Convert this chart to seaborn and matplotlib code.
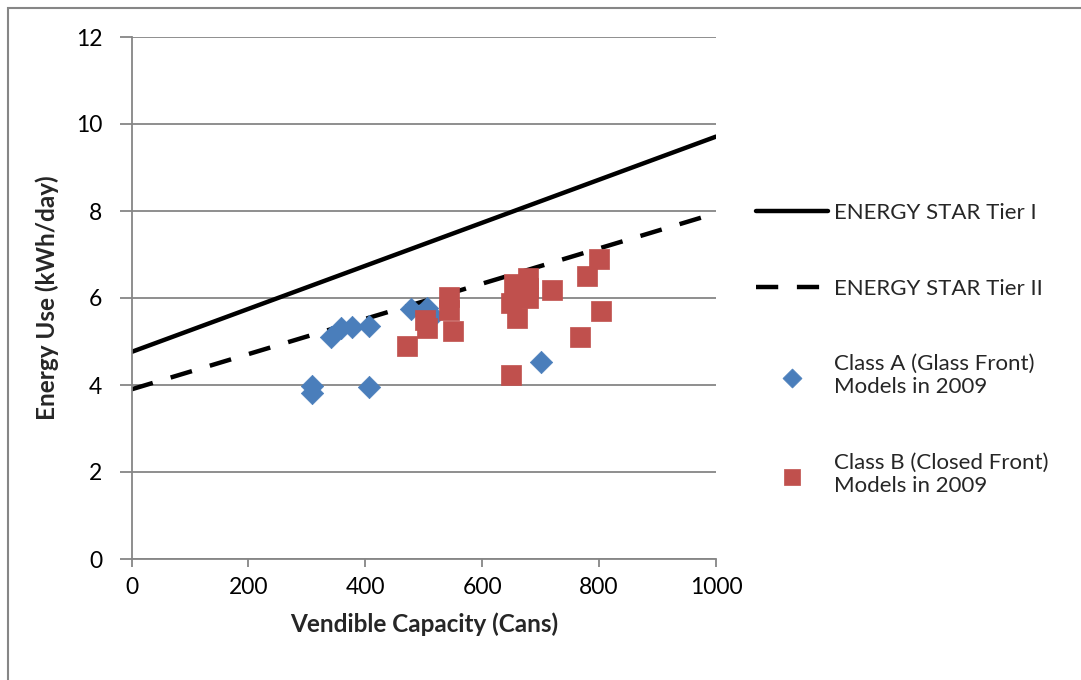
import numpy as np
import pandas as pd
import seaborn as sns
import matplotlib.pyplot as plt
from matplotlib.patches import Rectangle

# ENERGY STAR lines (end points)
tier1_x = [0, 1000]
tier1_y = [4.76, 9.71]
tier2_x = [0, 1000]
tier2_y = [3.90, 7.95]

# Class A (glass front) models
class_a_cap = [309, 309, 342, 359, 378, 406, 406, 479, 505, 516, 700]
class_a_kwh = [3.98, 3.82, 5.11, 5.30, 5.34, 5.36, 3.96, 5.74, 5.76, 5.59, 4.54]

# Class B (closed front) models
class_b_cap = [471, 502, 505, 544, 544, 550, 650, 650, 654, 660, 679, 679, 679,
               719, 768, 780, 799, 804]
class_b_kwh = [4.90, 5.49, 5.30, 6.02, 5.72, 5.23, 5.89, 4.23, 6.33, 5.54, 6.46,
               6.23, 6.00, 6.18, 5.11, 6.51, 6.90, 5.70]

sns.set_style('white')
plt.rcParams['font.family'] = ['Lato', 'DejaVu Sans']

fig = plt.figure(figsize=(10.81, 6.8), dpi=100)
ax = fig.add_axes([131.5 / 1081, 1 - 559 / 680, (716 - 131.5) / 1081, (559 - 37) / 680])

grid_col = '#868686'

sns.lineplot(x=tier1_x, y=tier1_y, ax=ax, color='black', linewidth=3.2,
             label='ENERGY STAR Tier I')
sns.lineplot(x=tier2_x, y=tier2_y, ax=ax, color='black', linewidth=3.2,
             label='ENERGY STAR Tier II')
ax.lines[1].set_dashes([5, 4.2])

df_a = pd.DataFrame({'cap': class_a_cap, 'kwh': class_a_kwh})
df_b = pd.DataFrame({'cap': class_b_cap, 'kwh': class_b_kwh})
sns.scatterplot(data=df_a, x='cap', y='kwh', ax=ax, marker='D', s=130,
                color='#4a7ebb', edgecolor='#4a7ebb', linewidth=0.5, zorder=3,
                label='Class A (Glass Front)\nModels in 2009')
sns.scatterplot(data=df_b, x='cap', y='kwh', ax=ax, marker='s', s=190,
                color='#c0504d', edgecolor='#c0504d', linewidth=0.5, zorder=3,
                label='Class B (Closed Front)\nModels in 2009')

ax.set_xlim(0, 1000)
ax.set_ylim(0, 12)
ax.set_xticks(np.arange(0, 1001, 200))
ax.set_yticks(np.arange(0, 13, 2))
ax.yaxis.grid(True, color=grid_col, linewidth=1.3)
ax.set_axisbelow(True)
for side in ['top', 'right']:
    ax.spines[side].set_visible(False)
for side in ['left', 'bottom']:
    ax.spines[side].set_color(grid_col)
    ax.spines[side].set_linewidth(1.3)
ax.tick_params(axis='both', direction='out', length=6, width=1.3, color=grid_col,
               labelsize=16.5, labelcolor='black', pad=4, left=True, bottom=True)
ax.tick_params(axis='y', length=9, pad=12)
ax.tick_params(axis='x', pad=7)

ax.set_xlabel('Vendible Capacity (Cans)', fontsize=17.5, fontweight='bold', labelpad=10)
ax.set_ylabel('Energy Use (kWh/day)', fontsize=17.5, fontweight='bold', labelpad=12)

leg = ax.legend(loc='upper left', bbox_to_anchor=(1.035, 0.72), frameon=False,
                fontsize=16, handlelength=3.2, handletextpad=0.3, labelspacing=2.5,
                markerscale=0.85)

# outer chart frame (only top and left edges show)
fig.patches.append(Rectangle((8 / 1081, -0.5), 2, 1.5 - 8 / 680,
                             transform=fig.transFigure, fill=False,
                             edgecolor=grid_col, linewidth=1.5))

fig.savefig('out.png', dpi=100)
